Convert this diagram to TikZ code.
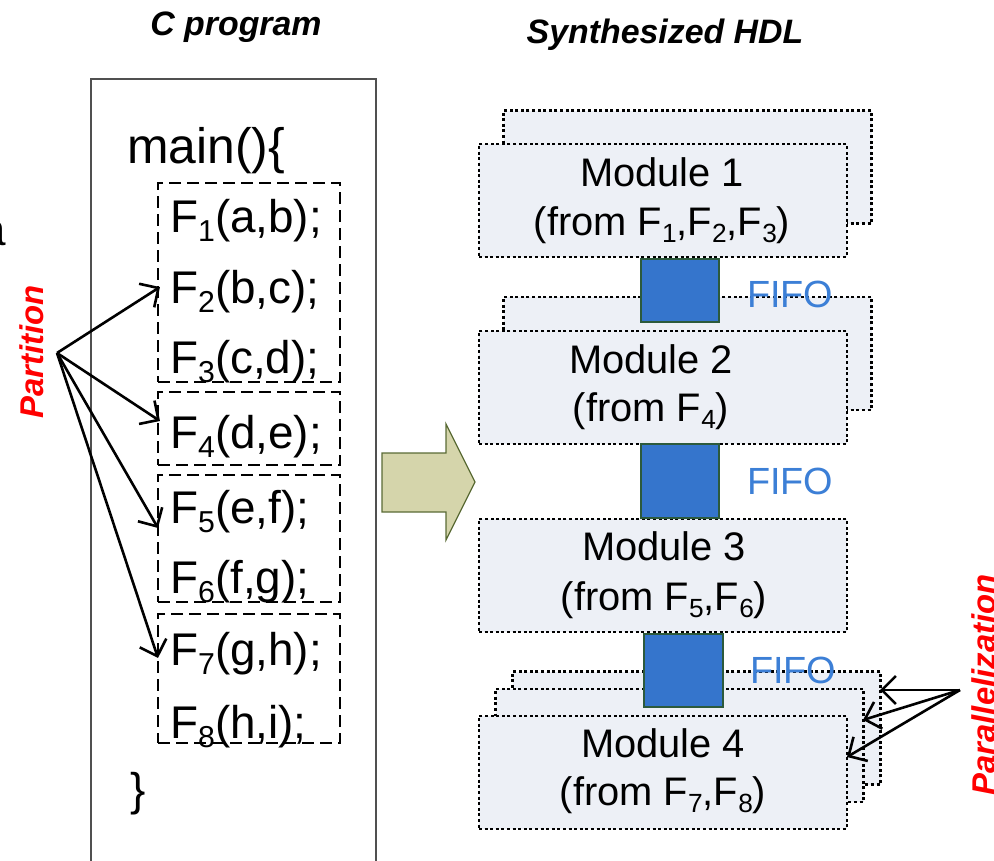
\documentclass[tikz,border=0pt]{standalone}
\usepackage{fontspec}
\setmainfont{Liberation Sans}
\usepackage{graphicx}
\usetikzlibrary{arrows.meta}

\definecolor{modfill}{HTML}{EDF0F6}
\definecolor{fifofill}{HTML}{3575CC}
\definecolor{fifoedge}{HTML}{2C5A3C}
\definecolor{fifotext}{HTML}{3C7FD6}
\definecolor{arrowfill}{HTML}{D5D5AB}
\definecolor{arrowedge}{HTML}{5A6B35}
\definecolor{framegray}{HTML}{505050}

% lowered, reduced index such as the 1 in F1
\newcommand\sbs[1]{\raisebox{-0.2em}{\scalebox{0.66}{#1}}}

\tikzset{
  codetxt/.style={font=\fontsize{46}{50}\selectfont, inner sep=0, anchor=base west},
  modtxt/.style={font=\fontsize{40}{44}\selectfont, inner sep=0, anchor=base},
  fifotxt/.style={font=\fontsize{38}{42}\selectfont, text=fifotext, inner sep=0, anchor=base west},
  headtxt/.style={font=\fontsize{34}{38}\selectfont\bfseries\itshape, inner sep=0, anchor=base},
  redlabel/.style={font=\fontsize{33}{36}\selectfont\bfseries\itshape, text=red, inner sep=0, rotate=90},
  groupbox/.style={draw, dash pattern=on 12bp off 6bp, line width=2.8bp, inner sep=0, outer sep=0},
  modbox/.style={draw, fill=modfill, dash pattern=on 3bp off 2.6bp, line width=2.8bp,
                 minimum width=368bp, minimum height=113bp, inner sep=0, outer sep=0},
  fifobox/.style={draw=fifoedge, fill=fifofill, line width=1.2bp, inner sep=0, outer sep=0},
  partarrow/.style={line width=2.6bp, -{Straight Barb[length=14bp,width=28bp,line width=2.6bp]}},
}

\begin{document}
\begin{tikzpicture}[x=1bp,y=-1bp]
\useasboundingbox (0,0) rectangle (994,861);

% ---------- headings ----------
\node[headtxt] (hc) at (236,35) {C program};
\node[headtxt] (hh) at (665,43) {Synthesized HDL};

% cut-off letter at the left edge
\node[codetxt, anchor=base east] (frag) at (6,245) {a};

% ---------- C program frame ----------
\draw[framegray, line width=1.2bp] (91,880) -- (91,79) -- (376,79) -- (376,880);

% ---------- code lines ----------
\node[codetxt, font=\fontsize{50}{54}\selectfont] (cmain) at (127,163) {main()\{};
\node[codetxt] (c1) at (170,232) {F\sbs{1}(a,b);};
\node[codetxt] (c2) at (170,303) {F\sbs{2}(b,c);};
\node[codetxt] (c3) at (170,373) {F\sbs{3}(c,d);};
\node[codetxt] (c4) at (170,448) {F\sbs{4}(d,e);};
\node[codetxt] (c5) at (170,523) {F\sbs{5}(e,f);};
\node[codetxt] (c6) at (170,593) {F\sbs{6}(f,g);};
\node[codetxt] (c7) at (170,665) {F\sbs{7}(g,h);};
\node[codetxt] (c8) at (170,738) {F\sbs{8}(h,i);};
\node[codetxt] (cend) at (130,805) {\}};

% ---------- partition groups ----------
\node[groupbox, minimum width=182bp, minimum height=199bp] (g1) at (249,282.5) {};
\node[groupbox, minimum width=182bp, minimum height=73bp]  (g2) at (249,428.5) {};
\node[groupbox, minimum width=182bp, minimum height=127bp] (g3) at (249,538.5) {};
\node[groupbox, minimum width=182bp, minimum height=129bp] (g4) at (249,678.5) {};

% ---------- partition arrows ----------
\coordinate (psrc) at (57,353);
\coordinate (pt1) at (160,287);
\coordinate (pt2) at (160,421);
\coordinate (pt3) at (158,528);
\coordinate (pt4) at (158,658);
\foreach \t in {pt1,pt2,pt3,pt4} \draw[partarrow] (psrc) -- (\t);
\node[redlabel] (lpart) at (32,352) {Partition};

% ---------- transformation arrow ----------
\draw[arrowedge, fill=arrowfill, line width=1.2bp]
  (382,453) -- (446,453) -- (446,424) -- (475,482) -- (446,540) -- (446,512) -- (382,512) -- cycle;

% ---------- modules ----------
\node[modbox] (m1b) at (687.5,167) {};
\node[modbox] (m1)  at (663,200.5) {};
\node[modbox] (m2b) at (687.5,353.5) {};
\node[modbox] (m2)  at (663,387.5) {};
\node[modbox] (m3)  at (663,575.5) {};
\node[modbox] (m4c) at (696.5,728) {};
\node[modbox] (m4b) at (679.5,745.5) {};
\node[modbox] (m4)  at (663,772.5) {};

\node[modtxt] (t1a) at (662,186) {Module 1};
\node[modtxt] (t1b) at (662,235) {(from F\sbs{1},F\sbs{2},F\sbs{3})};
\node[modtxt] (t2a) at (651,373) {Module 2};
\node[modtxt] (t2b) at (651,421) {(from F\sbs{4})};
\node[modtxt] (t3a) at (664,560) {Module 3};
\node[modtxt] (t3b) at (664,610) {(from F\sbs{5},F\sbs{6})};
\node[modtxt] (t4a) at (663,757) {Module 4};
\node[modtxt] (t4b) at (663,805) {(from F\sbs{7},F\sbs{8})};

% ---------- FIFOs ----------
\node[fifobox, minimum width=78bp, minimum height=63bp] (f1) at (680,290.5) {};
\node[fifobox, minimum width=78bp, minimum height=74bp] (f2) at (680,481) {};
\node[fifobox, minimum width=79bp, minimum height=73bp] (f3) at (683.5,670.5) {};
\node[fifotxt] (ft1) at (747,307) {FIFO};
\node[fifotxt] (ft2) at (747,494) {FIFO};
\node[fifotxt] (ft3) at (750,683) {FIFO};

% ---------- parallelization arrows ----------
\coordinate (qsrc) at (960,690);
\coordinate (qt1) at (880,690);
\coordinate (qt2) at (863,720);
\coordinate (qt3) at (847,757);
\foreach \t in {qt1,qt2,qt3} \draw[partarrow] (qsrc) -- (\t);
\node[redlabel] (lpar) at (984,685) {Parallelization};
\end{tikzpicture}
\end{document}
